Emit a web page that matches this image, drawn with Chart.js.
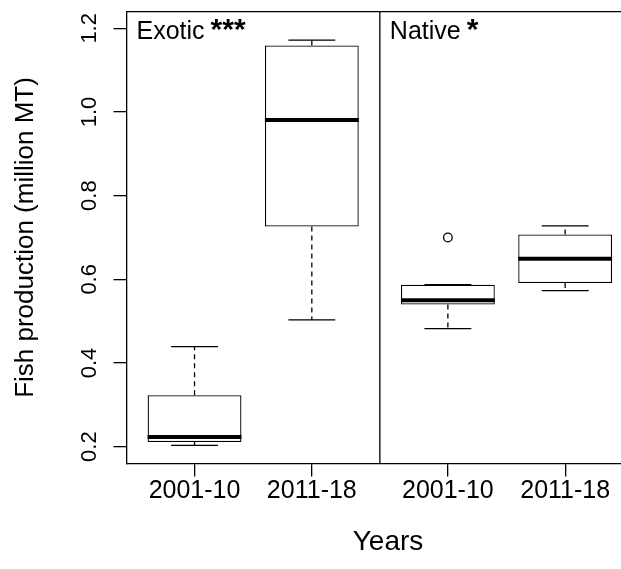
<!DOCTYPE html>
<html lang="en">
<head>
  <meta charset="UTF-8">
  <title>Fish production - Exotic vs Native</title>
  <script src="https://cdn.jsdelivr.net/npm/chart.js"></script>
  <style>
    html, body {
      margin: 0;
      padding: 0;
      background: #fff;
      overflow: hidden;
    }
    #wrap {
      width: 621px;
      height: 569px;
      overflow: hidden;
    }
  </style>
</head>
<body>
  <div id="wrap"><canvas id="box" width="660" height="569"></canvas></div>

  <script>
    // Panels and periods
    const groups = ['Exotic', 'Native'];
    const stars = ['***', '*'];
    const periods = ['2001-10', '2011-18'];

    // Five-number summaries (million MT)
    // order: Exotic 2001-10, Exotic 2011-18, Native 2001-10, Native 2011-18
    const lowWhisker = [0.203, 0.503, 0.482, 0.573];
    const q1 = [0.211, 0.726, 0.540, 0.591];
    const median = [0.223, 0.981, 0.550, 0.649];
    const q3 = [0.323, 1.159, 0.587, 0.707];
    const highWhisker = [0.439, 1.172, 0.587, 0.728];

    // Outliers: index of the box and value
    const outlierBox = [2];
    const outlierValue = [0.70];

    const yTicks = [0.2, 0.4, 0.6, 0.8, 1.0, 1.2];

    // R style layout: every panel covers 0.42 .. 2.58 box units
    const panelWidth = 2.16;
    const panelStart = 0.42;
    const boxX = k => Math.floor(k / 2) * panelWidth + (k % 2) + 1;

    const font = '"Liberation Sans", Arial, sans-serif';
    const ink = '#000';
    const lw = 1.3;

    // whiskers, caps, medians, frame and texts
    const boxPlot = {
      id: 'boxPlot',
      afterDatasetsDraw(chart) {
        const { ctx, scales: { y } } = chart;
        const bars = chart.getDatasetMeta(0).data;
        ctx.save();
        ctx.strokeStyle = ink;
        bars.forEach((bar, k) => {
          const cx = bar.x;
          const half = bar.width / 2;

          ctx.lineWidth = lw;
          ctx.setLineDash([5, 4]);
          ctx.beginPath();
          ctx.moveTo(cx, y.getPixelForValue(q3[k]));
          ctx.lineTo(cx, y.getPixelForValue(highWhisker[k]));
          ctx.moveTo(cx, y.getPixelForValue(q1[k]));
          ctx.lineTo(cx, y.getPixelForValue(lowWhisker[k]));
          ctx.stroke();

          ctx.setLineDash([]);
          ctx.beginPath();
          [highWhisker[k], lowWhisker[k]].forEach(v => {
            const py = y.getPixelForValue(v);
            ctx.moveTo(cx - half / 2, py);
            ctx.lineTo(cx + half / 2, py);
          });
          ctx.stroke();

          ctx.lineWidth = 4;
          ctx.beginPath();
          const my = y.getPixelForValue(median[k]);
          ctx.moveTo(cx - half, my);
          ctx.lineTo(cx + half, my);
          ctx.stroke();
        });
        ctx.restore();
      },
      afterDraw(chart) {
        const { ctx, chartArea: area, scales: { x, y } } = chart;
        ctx.save();
        ctx.strokeStyle = ink;
        ctx.lineWidth = lw;

        // top of the box frame + panel divider
        const divX = x.getPixelForValue(panelStart + panelWidth);
        ctx.beginPath();
        ctx.moveTo(area.left, area.top);
        ctx.lineTo(area.right, area.top);
        ctx.moveTo(divX, area.top);
        ctx.lineTo(divX, area.bottom);
        ctx.stroke();

        ctx.fillStyle = ink;
        ctx.textBaseline = 'alphabetic';

        // panel names with significance stars
        groups.forEach((g, i) => {
          const left = x.getPixelForValue(panelStart + i * panelWidth) + 10;
          const base = area.top + 27.5;
          ctx.textAlign = 'left';
          ctx.font = `25px ${font}`;
          ctx.fillText(g, left, base);
          const w = ctx.measureText(g).width;
          ctx.font = `bold 30px ${font}`;
          ctx.fillText(stars[i], left + w + 6, base);
        });

        // y tick labels, parallel to the axis
        ctx.textAlign = 'center';
        ctx.font = `22px ${font}`;
        y.ticks.forEach((t, i) => {
          ctx.save();
          ctx.translate(area.left - 31, y.getPixelForTick(i));
          ctx.rotate(-Math.PI / 2);
          ctx.fillText(t.value.toFixed(1), 0, 0);
          ctx.restore();
        });

        // axis titles
        ctx.font = `26px ${font}`;
        ctx.save();
        ctx.translate(area.left - 94, (area.top + area.bottom) / 2);
        ctx.rotate(-Math.PI / 2);
        ctx.fillText('Fish production (million MT)', 0, 0);
        ctx.restore();

        ctx.font = `28px ${font}`;
        ctx.fillText('Years', 388, 550);
        ctx.restore();
      }
    };

    new Chart(document.getElementById('box'), {
      type: 'bar',
      data: {
        datasets: [{
          type: 'bar',
          data: q1.map((lo, k) => ({ x: boxX(k), y: [lo, q3[k]] })),
          backgroundColor: '#fff',
          borderColor: ink,
          borderWidth: lw,
          borderSkipped: false,
          categoryPercentage: 0.8,
          barPercentage: 1
        }, {
          type: 'scatter',
          data: outlierBox.map((k, i) => ({ x: boxX(k), y: outlierValue[i] })),
          pointRadius: 4.3,
          pointBackgroundColor: '#fff',
          pointBorderColor: ink,
          pointBorderWidth: lw
        }]
      },
      options: {
        responsive: false,
        animation: false,
        events: [],
        layout: { padding: { left: 113.5, top: 11.6, right: 26.8, bottom: 62.6 } },
        plugins: {
          legend: { display: false },
          tooltip: { enabled: false }
        },
        scales: {
          x: {
            type: 'linear',
            min: panelStart,
            max: panelStart + 2 * panelWidth,
            offset: false,
            afterBuildTicks: s => { s.ticks = q1.map((_, k) => ({ value: boxX(k) })); },
            grid: { offset: false, drawOnChartArea: false, tickLength: 13, color: ink, lineWidth: lw },
            border: { color: ink, width: lw },
            ticks: {
              padding: 0,
              maxRotation: 0,
              autoSkip: false,
              color: ink,
              font: { family: font, size: 25 },
              callback: (v, i) => periods[i % 2]
            }
          },
          y: {
            type: 'linear',
            min: 0.16,
            max: 1.24,
            beginAtZero: false,
            afterBuildTicks: s => { s.ticks = yTicks.map(v => ({ value: v })); },
            grid: { drawOnChartArea: false, tickLength: 13, color: ink, lineWidth: lw },
            border: { color: ink, width: lw },
            ticks: { display: false }
          }
        }
      },
      plugins: [boxPlot]
    });
  </script>
</body>
</html>
